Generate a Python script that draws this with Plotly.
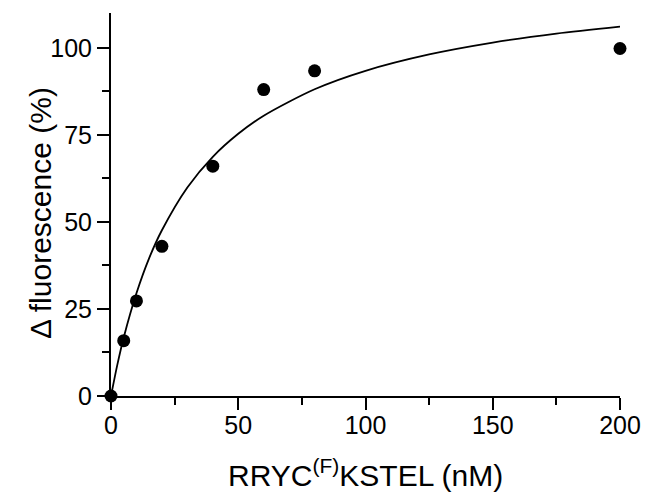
import plotly.graph_objects as go

# Measured data points
conc_nM = [0, 5, 10, 20, 40, 60, 80, 200]
delta_fluor = [0, 15.9, 27.3, 43.0, 66.0, 88.0, 93.4, 99.8]

# Fitted curve
fit_x = [0, 2.5, 5, 10, 15, 20, 30, 40, 50, 60, 80, 100, 125, 150, 175, 200]
fit_y = [0, 9.0, 16.8, 29.5, 39.6, 47.6, 59.9, 68.7, 75.3, 80.5, 88.1, 93.4, 98.1, 101.5, 104.1, 106.1]

x_ticks = [0, 50, 100, 150, 200]
y_ticks = [0, 25, 50, 75, 100]

x_title = "RRYC<sup>(F)</sup>KSTEL (nM)"
y_title = "Δ fluorescence (%)"

FONT = "Arial, Liberation Sans, sans-serif"

fig = go.Figure()
fig.add_trace(go.Scatter(x=fit_x, y=fit_y, mode="lines",
                         line=dict(color="black", width=1.8, shape="spline", smoothing=0.8),
                         hoverinfo="skip", cliponaxis=False))
fig.add_trace(go.Scatter(x=conc_nM, y=delta_fluor, mode="markers",
                         marker=dict(color="black", size=13), cliponaxis=False))

axis_common = dict(showgrid=False, zeroline=False, showline=True, linecolor="black",
                   linewidth=2, ticks="outside", ticklen=12, tickwidth=2, tickcolor="black",
                   automargin=False,
                   tickfont=dict(family=FONT, size=25, color="black"))

fig.update_xaxes(range=[0, 200], tickvals=x_ticks, ticktext=[str(v) for v in x_ticks],
                 minor=dict(dtick=25, tick0=0, ticklen=7, tickwidth=2, tickcolor="black", ticks="outside"),
                 ticklabelstandoff=-6,
                 **axis_common)
fig.update_yaxes(range=[0, 110], tickvals=y_ticks, ticktext=[str(v) for v in y_ticks],
                 minor=dict(dtick=12.5, tick0=0, ticklen=7, tickwidth=2, tickcolor="black", ticks="outside"),
                 **axis_common)

fig.add_annotation(text=x_title, xref="paper", yref="paper", x=0.5, y=-0.2,
                   xanchor="center", yanchor="middle", showarrow=False,
                   font=dict(family=FONT, size=30, color="black"))
fig.add_annotation(text=y_title, xref="paper", yref="paper", x=-0.1375, y=0.478,
                   xanchor="center", yanchor="middle", textangle=-90, showarrow=False,
                   font=dict(family=FONT, size=30, color="black"))

fig.update_layout(width=646, height=498, showlegend=False,
                  plot_bgcolor="white", paper_bgcolor="white",
                  margin=dict(l=111, r=26, t=13, b=102))

fig.write_html("out.html", config={"displayModeBar": False},
               post_script="document.body.style.margin='0px';document.body.style.overflow='hidden';")
